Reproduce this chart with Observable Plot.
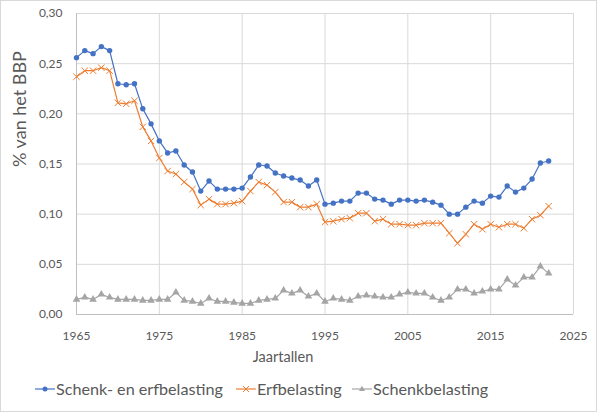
<!DOCTYPE html>
<html>
<head>
<meta charset="utf-8">
<script src="https://cdn.jsdelivr.net/npm/d3@7"></script>
<script src="https://cdn.jsdelivr.net/npm/@observablehq/plot@0.6"></script>
<style>
  html, body { margin: 0; padding: 0; background: #fff; }
  #wrap { position: relative; width: 597px; height: 412px; font-family: Lato, "Open Sans", sans-serif; color: #595959; }
  #border { position: absolute; left: 0; top: 0; width: 597px; height: 412px; box-sizing: border-box; border: 1px solid #d9d9d9; pointer-events: none; }
  #chart { position: absolute; left: 0; top: 0; }
  .leg { position: absolute; top: 377px; font-size: 16.2px; line-height: 24px; white-space: nowrap; color: #595959; }
  .leg svg { position: absolute; top: 0; }
</style>
</head>
<body>
<div id="wrap">
  <div id="chart"></div>
  <div id="legend"></div>
  <div id="border"></div>
</div>
<script>
const years = [1965,1966,1967,1968,1969,1970,1971,1972,1973,1974,1975,1976,1977,1978,1979,
  1980,1981,1982,1983,1984,1985,1986,1987,1988,1989,1990,1991,1992,1993,1994,1995,1996,1997,
  1998,1999,2000,2001,2002,2003,2004,2005,2006,2007,2008,2009,2010,2011,2012,2013,2014,2015,
  2016,2017,2018,2019,2020,2021,2022];

const schenkEnErf = [0.256,0.263,0.260,0.267,0.263,0.230,0.229,0.230,0.205,0.190,
  0.173,0.161,0.163,0.149,0.142,0.123,0.133,0.125,0.125,0.125,
  0.126,0.137,0.149,0.148,0.141,0.138,0.136,0.134,0.128,0.134,
  0.110,0.111,0.113,0.113,0.121,0.121,0.115,0.114,0.110,0.114,
  0.114,0.113,0.114,0.112,0.109,0.100,0.100,0.107,0.113,0.111,
  0.118,0.117,0.128,0.122,0.126,0.135,0.151,0.153];

const erf = [0.237,0.243,0.243,0.246,0.243,0.211,0.210,0.213,0.187,0.173,
  0.156,0.143,0.140,0.132,0.125,0.109,0.115,0.110,0.110,0.111,
  0.113,0.123,0.132,0.129,0.122,0.112,0.112,0.107,0.107,0.110,
  0.092,0.093,0.095,0.096,0.101,0.101,0.093,0.095,0.090,0.090,
  0.089,0.089,0.091,0.091,0.091,0.081,0.071,0.080,0.090,0.085,
  0.090,0.087,0.090,0.090,0.086,0.095,0.099,0.108];

const schenk = [0.015,0.017,0.015,0.020,0.017,0.015,0.015,0.015,0.014,0.014,
  0.015,0.015,0.022,0.014,0.013,0.011,0.016,0.013,0.013,0.012,
  0.011,0.011,0.014,0.015,0.016,0.024,0.021,0.024,0.018,0.021,
  0.013,0.016,0.015,0.014,0.018,0.019,0.018,0.017,0.017,0.020,
  0.022,0.021,0.021,0.017,0.014,0.017,0.025,0.025,0.021,0.023,
  0.025,0.025,0.035,0.029,0.037,0.037,0.048,0.041];

const seriesNames = ["Schenk- en erfbelasting", "Erfbelasting", "Schenkbelasting"];
const seriesColors = ["#4472c4", "#ed7d31", "#a5a5a5"];
const xTicks = [1965, 1975, 1985, 1995, 2005, 2015, 2025];
const yTicks = [0, 0.05, 0.10, 0.15, 0.20, 0.25, 0.30];
const xTitle = "Jaartallen";
const yTitle = "% van het BBP";

const dBlue = years.map((y, i) => ({year: y, value: schenkEnErf[i]}));
const dOrange = years.map((y, i) => ({year: y, value: erf[i]}));
const dGray = years.map((y, i) => ({year: y, value: schenk[i]}));

const fmtY = d => d.toFixed(2).replace(".", ",");

const chart = Plot.plot({
  width: 597,
  height: 372,
  marginLeft: 76,
  marginRight: 24,
  marginTop: 13,
  marginBottom: 58,
  style: {fontFamily: "Lato, 'Open Sans', sans-serif", color: "#595959", background: "transparent"},
  x: {domain: [1965, 2025]},
  y: {domain: [0, 0.30]},
  marks: [
    Plot.gridX(xTicks, {stroke: "#d9d9d9", strokeOpacity: 1}),
    Plot.gridY(yTicks, {stroke: "#d9d9d9", strokeOpacity: 1}),
    Plot.ruleX([1965], {stroke: "#bfbfbf"}),
    Plot.ruleY([0], {stroke: "#bfbfbf"}),
    Plot.axisX(xTicks, {tickSize: 0, tickPadding: 17, tickFormat: d => String(d), fontSize: 12, label: null}),
    Plot.axisY(yTicks, {tickSize: 0, tickPadding: 14, tickFormat: fmtY, fontSize: 12, label: null}),
    Plot.text([xTitle], {frameAnchor: "bottom", dx: -42, dy: 47, fontSize: 14.5, fill: "#595959"}),
    Plot.text([yTitle], {frameAnchor: "left", dx: -56, dy: 3, rotate: -90, fontSize: 18, fill: "#595959"}),
    Plot.line(dGray, {x: "year", y: "value", stroke: seriesColors[2], strokeWidth: 1.2}),
    Plot.dot(dGray, {x: "year", y: "value", symbol: "triangle", r: 2.8, fill: seriesColors[2], stroke: "none"}),
    Plot.line(dOrange, {x: "year", y: "value", stroke: seriesColors[1], strokeWidth: 1.2}),
    Plot.dot(dOrange, {x: "year", y: "value", symbol: "times", r: 3, stroke: seriesColors[1], strokeWidth: 1}),
    Plot.line(dBlue, {x: "year", y: "value", stroke: seriesColors[0], strokeWidth: 1.2}),
    Plot.dot(dBlue, {x: "year", y: "value", symbol: "circle", r: 2.7, fill: seriesColors[0], stroke: "none"})
  ]
});
document.getElementById("chart").appendChild(chart);

// Legend
const legendPos = [{line: 35, text: 56}, {line: 236, text: 257}, {line: 352, text: 373}];
const legendSymbols = ["circle", "times", "triangle"];
const legend = document.getElementById("legend");
seriesNames.forEach((name, i) => {
  const item = document.createElement("div");
  item.className = "leg";
  item.style.left = legendPos[i].line + "px";
  const lw = legendPos[i].text - legendPos[i].line;
  const sym = d3.create("svg").attr("width", lw).attr("height", 24).style("left", "0px");
  sym.append("line").attr("x1", 0).attr("x2", lw - 1).attr("y1", 12).attr("y2", 12)
    .attr("stroke", seriesColors[i]).attr("stroke-width", 1.2);
  const cx = (lw - 1) / 2, cy = 12;
  if (legendSymbols[i] === "circle") {
    sym.append("circle").attr("cx", cx).attr("cy", cy).attr("r", 2.5).attr("fill", seriesColors[i]);
  } else if (legendSymbols[i] === "times") {
    sym.append("path").attr("d", `M${cx-3},${cy-3}L${cx+3},${cy+3}M${cx-3},${cy+3}L${cx+3},${cy-3}`)
      .attr("stroke", seriesColors[i]).attr("stroke-width", 1);
  } else {
    sym.append("path").attr("d", `M${cx},${cy-3.2}L${cx+3},${cy+2}L${cx-3},${cy+2}Z`).attr("fill", seriesColors[i]);
  }
  item.appendChild(sym.node());
  const span = document.createElement("span");
  span.textContent = name;
  span.style.position = "absolute";
  span.style.left = lw + "px";
  item.appendChild(span);
  legend.appendChild(item);
});
</script>
</body>
</html>
